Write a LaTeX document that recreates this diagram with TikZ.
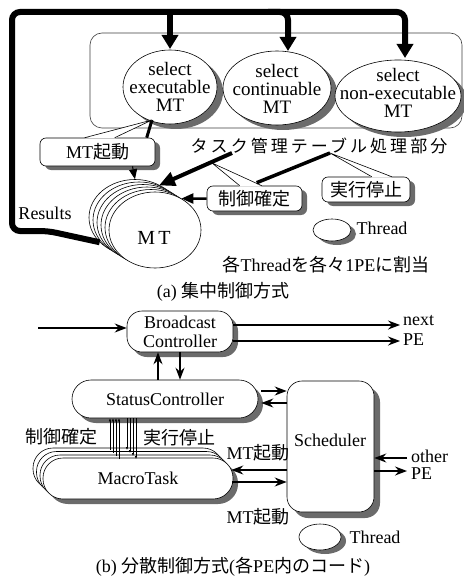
\documentclass[tikz,border=0pt]{standalone}
\usepackage{fontspec}
\setmainfont{Liberation Serif}
\newfontfamily\jpfont{Noto Sans CJK JP}
\newfontfamily\jpwide{Noto Sans CJK JP}[LetterSpace=18]
\newcommand{\jj}[1]{{\jpfont #1}}
\usetikzlibrary{arrows.meta,shapes.geometric,calc}
\definecolor{shadowgray}{rgb}{0.42,0.42,0.42}
\definecolor{framegray}{rgb}{0.25,0.25,0.25}

\begin{document}
\begin{tikzpicture}[x=1pt,y=-1pt,
  txt/.style={font=\fontsize{18}{19}\selectfont, inner sep=0pt, align=center},
  shadowfill/.style={fill=shadowgray, draw=none},
  ell/.style={ellipse, draw, fill=white, line width=0.6pt, inner sep=0pt},
  rbox/.style={draw, fill=white, line width=0.6pt, rounded corners=#1, inner sep=0pt},
  fat/.style={line width=6pt, -{Triangle[width=16pt,length=14pt]}},
  arr/.style={line width=1.4pt, -{Stealth[length=12pt,width=9pt,inset=4pt]}},
  tiny/.style={line width=0.5pt, -{Latex[length=3pt,width=2.5pt]}},
]
\useasboundingbox (0,0) rectangle (463,580);
\fill[white] (0,0) rectangle (463,580);

% ---------------- (a) centralised control ----------------
\node[draw=framegray, line width=0.6pt, rounded corners=12pt,
      minimum width=372pt, minimum height=95pt] (pnl) at (276,80.5) {};

% back-most MT thread
\node[ell, minimum width=92pt, minimum height=76pt] (mtb5) at (135,217.5) {};

% result loop feeding the three selectors
\draw[line width=6pt, rounded corners=8pt, -{Triangle[width=16pt,length=14pt]}]
  (mtb5.215) -- (48,231) -- (12,231) -- (12,12) -- (405,12) -- (405,58);
\draw[fat] (170,12) -- (170,49);
\draw[fat, rounded corners=8pt] (268,12) -- (288,12) -- (288,51);

% stacked MT threads
\node[ell, minimum width=92pt, minimum height=76pt] (mtb4) at (139,220) {};
\node[ell, minimum width=92pt, minimum height=76pt] (mtb3) at (143,222.5) {};
\node[ell, minimum width=92pt, minimum height=76pt] (mtb2) at (147,225) {};
\node[ell, minimum width=92pt, minimum height=76pt] (mtb1) at (151,227.5) {};
\node[ell, minimum width=92pt, minimum height=76pt] (mt) at (155,230) {};
\node[txt, font=\fontsize{20}{20}\selectfont] (mtt) at (154,238) {M\,T};

% selector ellipses with their shadows
\fill[shadowfill] (176,92) ellipse [x radius=47, y radius=37];
\fill[shadowfill] (283,93) ellipse [x radius=54, y radius=37];
\fill[shadowfill] (404,101) ellipse [x radius=63, y radius=36];
\node[ell, minimum width=94pt, minimum height=74pt] (e1) at (170,87) {};
\node[ell, minimum width=108pt, minimum height=74pt] (e2) at (277,88) {};
\node[ell, minimum width=126pt, minimum height=72pt] (e3) at (398,96) {};
\node[txt, font=\fontsize{19}{18}\selectfont] (e1t) at (170,87) {select\\executable\\MT};
\node[txt, font=\fontsize{19}{18}\selectfont] (e2t) at (277,89) {select\\continuable\\MT};
\node[txt, font=\fontsize{19}{18}\selectfont] (e3t) at (398,93) {select\\non-executable\\MT};

\node[inner sep=0pt, font=\fontsize{17}{17}\selectfont\jpwide] (tl) at (319,146) {タスク管理テーブル処理部分};

\node[txt] (res) at (45,213) {Results};

% callout: MT起動
\fill[shadowfill, rounded corners=6pt] (45,142) rectangle (160,170);
\node[rbox=6pt, txt, minimum width=115pt, minimum height=28pt] (cbA) at (97.5,152) {MT\jj{起動}};
\coordinate (apA) at (152,120);
\draw[line width=3pt] (apA) -- ($(cbA.north west)+(107,0)$);
\fill[white] ($(cbA.north west)+(45,0.8)$) -- (apA) -- ($(cbA.north west)+(75,0.8)$) -- cycle;
\draw[line width=0.6pt] ($(cbA.north west)+(45,0)$) -- (apA) -- ($(cbA.north west)+(75,0)$);
\draw[line width=1pt, -{Triangle[width=8pt,length=10pt]}] ($(cbA.south)+(35,0)$) -- (mtb5.north);

% callout: 制御確定
\fill[shadowfill, rounded corners=6pt] (212,190) rectangle (307,215);
\node[rbox=6pt, txt, minimum width=95pt, minimum height=25pt] (cbB) at (254.5,198.5) {\jj{制御確定}};
\coordinate (apB) at (212,163);
\fill[white] ($(cbB.north west)+(33,0.8)$) -- (apB) -- ($(cbB.north west)+(55,0.8)$) -- cycle;
\draw[line width=0.6pt] ($(cbB.north west)+(33,0)$) -- (apB) -- ($(cbB.north west)+(55,0)$);

% callout: 実行停止
\fill[shadowfill, rounded corners=6pt] (327,181) rectangle (415,206);
\node[rbox=6pt, txt, minimum width=88pt, minimum height=25pt] (cbC) at (366,189.5) {\jj{実行停止}};
\coordinate (apC) at (330,153);
\draw[line width=3.5pt] (apC) -- ($(cbB.north west)+(50,-3)$);
\fill[white] ($(cbC.north west)+(50,0.8)$) -- (apC) -- ($(cbC.north west)+(70,0.8)$) -- cycle;
\draw[line width=0.6pt] ($(cbC.north west)+(50,0)$) -- (apC) -- ($(cbC.north west)+(70,0)$);

% command arrows into the MT stack
\coordinate (bigs) at (232,153);
\draw[line width=4pt, -{Triangle[width=14pt,length=16pt]}] (bigs) -- (mtb4.60);
\draw[line width=2.5pt, -{Triangle[width=10pt,length=12pt]}] (cbB.west) -- (mt.50);

% legend
\fill[shadowfill] (337,234) ellipse [x radius=19, y radius=11];
\node[ell, minimum width=38pt, minimum height=22pt] (thA) at (332,230) {};
\node[txt] (thAt) at (382,228) {Thread};
\node[txt] (asg) at (326,265) {\jj{各}Thread\jj{を各々}1PE\jj{に割当}};
\node[txt] (capA) at (223,292) {(a) \jj{集中制御方式}};

% ---------------- (b) distributed control ----------------
\fill[shadowfill, rounded corners=15pt] (132,316) rectangle (238,357);
\node[rbox=15pt, txt, minimum width=106pt, minimum height=41pt] (bc) at (180,331.5) {Broadcast\\Controller};
\fill[shadowfill, rounded corners=19pt] (77,385) rectangle (263,423);
\node[rbox=19pt, txt, minimum width=186pt, minimum height=38pt] (sc) at (165,399) {StatusController};
\fill[shadowfill, rounded corners=15pt] (293,387) rectangle (380,518);
\node[rbox=15pt, minimum width=87pt, minimum height=131pt] (sch) at (330.5,446.5) {};
\node[txt] (scht) at (330,440) {Scheduler};

\node[rbox=20pt, minimum width=190pt, minimum height=41pt] (mtk3) at (128,468.5) {};
\node[rbox=20pt, minimum width=190pt, minimum height=41pt] (mtk2) at (131.5,472) {};
\node[rbox=20pt, minimum width=190pt, minimum height=41pt] (mtk1) at (135,475.5) {};
\fill[shadowfill, rounded corners=20pt] (48,463) rectangle (238,504);
\node[rbox=20pt, txt, minimum width=190pt, minimum height=41pt] (mtk) at (138,478.5) {MacroTask};

% broadcast in / out
\coordinate (inb) at (38,328);
\coordinate (ox1) at (400,325);
\coordinate (ox2) at (400,341);
\draw[arr] (inb) -- (inb -| bc.west);
\draw[arr] (ox1 -| bc.east) -- (ox1);
\draw[arr] (ox2 -| bc.east) -- (ox2);
\node[txt, anchor=west] (nxt) at (403,321) {next};
\node[txt, anchor=west] (pe1) at (403,340) {PE};

% status <-> broadcast
\draw[arr] ($(sc.north)+(-7,0)$) -- ($(bc.south)+(-22,0)$);
\draw[arr] (bc.south) -- ($(sc.north)+(15,0)$);

% status <-> scheduler
\coordinate (y1) at (0,391);
\coordinate (y2) at (0,403);
\draw[arr] ($(sc.east |- y1)+(3,0)$) -- (sch.west |- y1);
\draw[arr] (sch.west |- y2) -- ($(sc.east |- y2)+(3,0)$);

% scheduler <-> macrotask
\coordinate (y3) at (0,470);
\coordinate (y4) at (0,482);
\draw[arr] (sch.west |- y3) -- ($(mtk.east |- y3)+(-2,0)$);
\draw[arr] ($(mtk.east |- y4)+(-1,0)$) -- (sch.west |- y4);
\node[txt] (mtl1) at (258,453) {MT\jj{起動}};
\node[txt] (mtl2) at (258,517) {MT\jj{起動}};

% other PE
\coordinate (op1) at (407,458);
\coordinate (op2) at (407,471);
\draw[arr] (op1) -- (sch.east |- op1);
\draw[arr] (sch.east |- op2) -- (op2);
\node[txt, anchor=west] (oth) at (411,456) {other};
\node[txt, anchor=west] (pe2) at (411,474) {PE};

% signal lines between macrotasks and status controller
\draw[tiny] (110,450) -- ($(sc.south)+(-55,0)$);
\draw[tiny] (113,453) -- ($(sc.south)+(-52,0)$);
\draw[tiny] (116,456) -- ($(sc.south)+(-49,0)$);
\draw[tiny] (119,459) -- ($(sc.south)+(-46,0)$);
\draw[tiny] ($(sc.south)+(-38,0)$) -- (127,450);
\draw[tiny] ($(sc.south)+(-35,0)$) -- (130,453);
\draw[tiny] ($(sc.south)+(-32,0)$) -- (133,456);
\draw[tiny] ($(sc.south)+(-29,0)$) -- (136,459);
\node[txt] (ctl) at (61,437) {\jj{制御確定}};
\node[txt] (stp) at (179,438) {\jj{実行停止}};

% legend and caption
\fill[shadowfill] (325,541) ellipse [x radius=21, y radius=13];
\node[ell, minimum width=42pt, minimum height=26pt] (thB) at (320,537) {};
\node[txt] (thBt) at (375,537) {Thread};
\node[txt] (capB) at (233,567) {(b) \jj{分散制御方式}(\jj{各}PE\jj{内のコード})};
\end{tikzpicture}
\end{document}
